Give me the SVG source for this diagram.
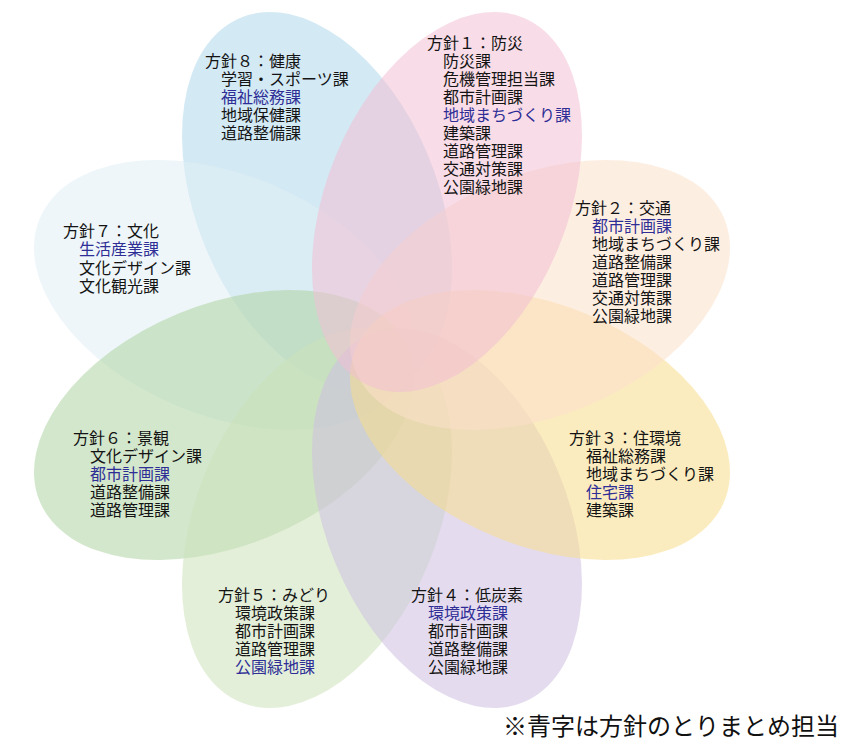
<svg xmlns="http://www.w3.org/2000/svg" width="849" height="742" viewBox="0 0 849 742">
<style>
.petal{opacity:0.55}
text{font-family:"Liberation Sans","Noto Sans CJK JP","Noto Sans CJK SC",sans-serif;font-size:16px;fill:#141414;dominant-baseline:central}
.b{fill:#2e2e96}
.note{font-size:24px;fill:#111}
</style>
<rect width="849" height="742" fill="#ffffff"/>
<g id="petals">
<g id="petal8"><ellipse class="petal" cx="0" cy="0" rx="120.5" ry="199.5" fill="#afd7eb" transform="translate(317 202) rotate(-22.5)"/></g>
<g id="petal7"><ellipse class="petal" cx="0" cy="0" rx="120.5" ry="199.5" fill="#e0eff4" transform="translate(224 295) rotate(-67.5)"/></g>
<g id="petal6"><ellipse class="petal" cx="0" cy="0" rx="120.5" ry="199.5" fill="#afd3a2" transform="translate(224 425) rotate(-112.5)"/></g>
<g id="petal5"><ellipse class="petal" cx="0" cy="0" rx="120.5" ry="199.5" fill="#cce2ba" transform="translate(317 518) rotate(-157.5)"/></g>
<g id="petal4"><ellipse class="petal" cx="0" cy="0" rx="120.5" ry="199.5" fill="#cebfe0" transform="translate(447 518) rotate(157.5)"/></g>
<g id="petal3"><ellipse class="petal" cx="0" cy="0" rx="120.5" ry="199.5" fill="#f8dc8c" transform="translate(540 425) rotate(112.5)"/></g>
<g id="petal2"><ellipse class="petal" cx="0" cy="0" rx="120.5" ry="199.5" fill="#fbe0ca" transform="translate(540 295) rotate(67.5)"/></g>
<g id="petal1"><ellipse class="petal" cx="0" cy="0" rx="120.5" ry="199.5" fill="#f2bfd3" transform="translate(447 202) rotate(22.5)"/></g>
</g>
<g id="connectors"></g>
<g id="node1">
<text><tspan x="427" y="43">方針１：防災</tspan><tspan x="443" y="61">防災課</tspan><tspan x="443" y="79">危機管理担当課</tspan><tspan x="443" y="97">都市計画課</tspan><tspan x="443" y="115" class="b">地域まちづくり課</tspan><tspan x="443" y="133">建築課</tspan><tspan x="443" y="151">道路管理課</tspan><tspan x="443" y="169">交通対策課</tspan><tspan x="443" y="187">公園緑地課</tspan></text>
</g>
<g id="node2">
<text><tspan x="575" y="207.5">方針２：交通</tspan><tspan x="592" y="225.5" class="b">都市計画課</tspan><tspan x="592" y="243.5">地域まちづくり課</tspan><tspan x="592" y="261.5">道路整備課</tspan><tspan x="592" y="279.5">道路管理課</tspan><tspan x="592" y="297.5">交通対策課</tspan><tspan x="592" y="315.5">公園緑地課</tspan></text>
</g>
<g id="node3">
<text><tspan x="569" y="437.5">方針３：住環境</tspan><tspan x="586" y="455.5">福祉総務課</tspan><tspan x="586" y="473.5">地域まちづくり課</tspan><tspan x="586" y="491.5" class="b">住宅課</tspan><tspan x="586" y="509.5">建築課</tspan></text>
</g>
<g id="node4">
<text><tspan x="411" y="594.5">方針４：低炭素</tspan><tspan x="428" y="612.5" class="b">環境政策課</tspan><tspan x="428" y="630.5">都市計画課</tspan><tspan x="428" y="648.5">道路整備課</tspan><tspan x="428" y="666.5">公園緑地課</tspan></text>
</g>
<g id="node5">
<text><tspan x="218" y="594.5">方針５：みどり</tspan><tspan x="235" y="612.5">環境政策課</tspan><tspan x="235" y="630.5">都市計画課</tspan><tspan x="235" y="648.5">道路管理課</tspan><tspan x="235" y="666.5" class="b">公園緑地課</tspan></text>
</g>
<g id="node6">
<text><tspan x="73" y="437.5">方針６：景観</tspan><tspan x="90" y="455.5">文化デザイン課</tspan><tspan x="90" y="473.5" class="b">都市計画課</tspan><tspan x="90" y="491.5">道路整備課</tspan><tspan x="90" y="509.5">道路管理課</tspan></text>
</g>
<g id="node7">
<text><tspan x="63" y="230.5">方針７：文化</tspan><tspan x="79" y="249" class="b">生活産業課</tspan><tspan x="79" y="267.5">文化デザイン課</tspan><tspan x="79" y="286">文化観光課</tspan></text>
</g>
<g id="node8">
<text><tspan x="205" y="60.5">方針８：健康</tspan><tspan x="221" y="78.5">学習・スポーツ課</tspan><tspan x="221" y="96.5" class="b">福祉総務課</tspan><tspan x="221" y="114.5">地域保健課</tspan><tspan x="221" y="132.5">道路整備課</tspan></text>
</g>
<text class="note" x="503" y="726.5">※青字は方針のとりまとめ担当</text>
</svg>
